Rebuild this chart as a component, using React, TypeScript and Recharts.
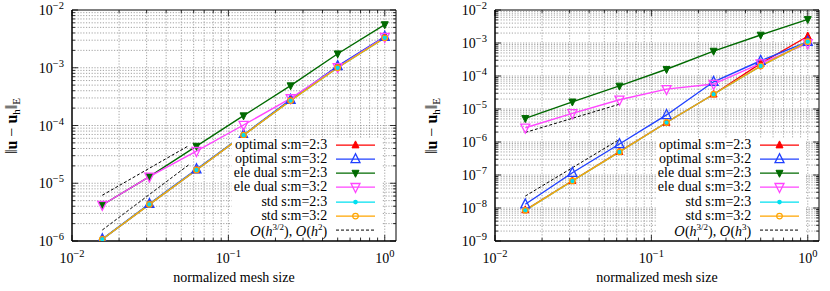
import { LineChart, Line, XAxis, YAxis, ReferenceLine, ReferenceArea, Legend, Label } from "recharts";

// mesh sizes h = 1/64 ... 1
const H = [1 / 64, 1 / 32, 1 / 16, 1 / 8, 1 / 4, 1 / 2, 1];

// left panel (s:m errors)
const leftOptimal23 = [1.07e-6, 4.3e-6, 1.7e-5, 6.8e-5, 2.75e-4, 1.05e-3, 3.4e-3];
const leftOptimal32 = [1.08e-6, 4.4e-6, 1.75e-5, 6.9e-5, 2.8e-4, 1.07e-3, 3.45e-3];
const leftEleDual23 = [4.2e-6, 1.3e-5, 4.4e-5, 1.48e-4, 4.9e-4, 1.75e-3, 5.6e-3];
const leftEleDual32 = [4.2e-6, 1.3e-5, 3.6e-5, 1.02e-4, 2.95e-4, 1.02e-3, 3.4e-3];
const leftStd23 = [1.07e-6, 4.3e-6, 1.7e-5, 6.8e-5, 2.7e-4, 1.0e-3, 3.3e-3];
const leftStd32 = [1.07e-6, 4.3e-6, 1.7e-5, 6.8e-5, 2.7e-4, 1.0e-3, 3.3e-3];
const leftRateH = [1 / 64, 0.056];
const leftRateA = [6.2e-6, 4.5e-5];
const leftRateB = [1.55e-6, 2.1e-5];

// right panel
const rightOptimal23 = [8.7e-9, 6.7e-8, 5.1e-7, 3.9e-6, 2.8e-5, 2.4e-4, 1.6e-3];
const rightOptimal32 = [1.3e-8, 1.17e-7, 8.7e-7, 6.6e-6, 6.7e-5, 2.9e-4, 1.1e-3];
const rightEleDual23 = [5.2e-6, 1.65e-5, 5.0e-5, 1.6e-4, 5.7e-4, 1.75e-3, 5.2e-3];
const rightEleDual32 = [2.7e-6, 7.4e-6, 1.9e-5, 4.0e-5, 5.7e-5, 2.4e-4, 9.8e-4];
const rightStd23 = [8.5e-9, 6.6e-8, 5.0e-7, 3.9e-6, 2.8e-5, 2.0e-4, 1.1e-3];
const rightStd32 = [8.5e-9, 6.6e-8, 5.0e-7, 3.9e-6, 2.8e-5, 2.0e-4, 1.1e-3];
const rightRateH = [1 / 64, 1 / 16];
const rightRateA = [1.95e-6, 1.4e-5];
const rightRateB = [2.3e-8, 1.2e-6];

const seriesNames = [
  "optimal s:m=2:3",
  "optimal s:m=3:2",
  "ele dual s:m=2:3",
  "ele dual s:m=3:2",
  "std s:m=2:3",
  "std s:m=3:2",
];

const FONT = "'Liberation Serif', 'Times New Roman', serif";
const PLOT_TOP = 10;
const PLOT_W = 324;
const PLOT_H = 231;
const X_DOMAIN = [0.01, 1.18];

type MarkerKind = "triUpFill" | "triUp" | "triDownFill" | "triDown" | "dot" | "circle";

const styles: { color: string; marker: MarkerKind }[] = [
  { color: "#ff0000", marker: "triUpFill" },
  { color: "#2040ff", marker: "triUp" },
  { color: "#006a00", marker: "triDownFill" },
  { color: "#ff44ff", marker: "triDown" },
  { color: "#00e0f0", marker: "dot" },
  { color: "#ffa500", marker: "circle" },
];

function Marker({ cx, cy, kind, color }: { cx: number; cy: number; kind: MarkerKind; color: string }) {
  if (cx == null || cy == null) return null;
  const big = 9;
  const small = 7;
  switch (kind) {
    case "triUpFill":
      return <polygon points={`${cx},${cy - small * 0.6} ${cx - small / 2},${cy + small * 0.4} ${cx + small / 2},${cy + small * 0.4}`} fill={color} stroke={color} strokeWidth={1} />;
    case "triUp":
      return <polygon points={`${cx},${cy - big * 0.6} ${cx - big / 2},${cy + big * 0.4} ${cx + big / 2},${cy + big * 0.4}`} fill="none" stroke={color} strokeWidth={1.3} />;
    case "triDownFill":
      return <polygon points={`${cx},${cy + small * 0.6} ${cx - small / 2},${cy - small * 0.4} ${cx + small / 2},${cy - small * 0.4}`} fill={color} stroke={color} strokeWidth={1} />;
    case "triDown":
      return <polygon points={`${cx},${cy + big * 0.6} ${cx - big / 2},${cy - big * 0.4} ${cx + big / 2},${cy - big * 0.4}`} fill="none" stroke={color} strokeWidth={1.3} />;
    case "dot":
      return <circle cx={cx} cy={cy} r={2.3} fill={color} stroke="none" />;
    default:
      return <circle cx={cx} cy={cy} r={2.8} fill="none" stroke={color} strokeWidth={1.2} />;
  }
}

function logTicks(lo: number, hi: number, maxVal: number) {
  const out: number[] = [];
  for (let e = lo; e <= hi; e++) {
    for (let m = 1; m <= 9; m++) {
      const v = m * Math.pow(10, e);
      if (v <= maxVal * 1.0001) out.push(Number(v.toPrecision(3)));
    }
  }
  return out;
}

const isDecade = (v: number) => Math.abs(Math.log10(v) - Math.round(Math.log10(v))) < 1e-6;

function Pow10({ v }: { v: number }) {
  const e = Math.round(Math.log10(v));
  return (
    <>
      <tspan>10</tspan>
      <tspan dy={-6} fontSize={10.5}>{e < 0 ? `\u2212${-e}` : `${e}`}</tspan>
    </>
  );
}

function XTick(props: any) {
  const { x, y, payload } = props;
  const v = payload.value;
  const major = isDecade(v);
  const len = major ? 6 : 3;
  return (
    <g>
      <line x1={x} y1={y} x2={x} y2={y - len} stroke="#000" strokeWidth={0.8} />
      <line x1={x} y1={PLOT_TOP} x2={x} y2={PLOT_TOP + len} stroke="#000" strokeWidth={0.8} />
      {major && (
        <text x={x} y={y + 22} textAnchor="middle" fontFamily={FONT} fontSize={14} fill="#000">
          <Pow10 v={v} />
        </text>
      )}
    </g>
  );
}

function YTick(props: any) {
  const { x, y, payload } = props;
  const v = payload.value;
  const major = isDecade(v);
  const len = major ? 6 : 3;
  return (
    <g>
      <line x1={x} y1={y} x2={x + len} y2={y} stroke="#000" strokeWidth={0.8} />
      <line x1={x + PLOT_W} y1={y} x2={x + PLOT_W - len} y2={y} stroke="#000" strokeWidth={0.8} />
      {major && (
        <text x={x - 8} y={y + 5} textAnchor="end" fontFamily={FONT} fontSize={14} fill="#000">
          <Pow10 v={v} />
        </text>
      )}
    </g>
  );
}

function LegendBox({ rateLabel }: { rateLabel: React.ReactNode }) {
  const rowH = 14.17;
  const rows = seriesNames.map((n, i) => ({ label: n as React.ReactNode, i }));
  return (
    <div style={{ background: "#fff", fontFamily: FONT, fontSize: 14, color: "#000" }}>
      {rows.map((r) => (
        <div key={r.i} style={{ display: "flex", alignItems: "center", height: rowH }}>
          <div style={{ width: 100, textAlign: "right", whiteSpace: "nowrap", lineHeight: `${rowH}px` }}>{r.label}</div>
          <svg width={48} height={rowH} style={{ marginLeft: 9 }}>
            <line x1={0} y1={rowH / 2} x2={39} y2={rowH / 2} stroke={styles[r.i].color} strokeWidth={1.4} />
            <Marker cx={19.5} cy={rowH / 2} kind={styles[r.i].marker} color={styles[r.i].color} />
          </svg>
        </div>
      ))}
      <div style={{ display: "flex", alignItems: "center", height: rowH }}>
        <div style={{ width: 100, textAlign: "right", whiteSpace: "nowrap", lineHeight: `${rowH}px` }}>{rateLabel}</div>
        <svg width={48} height={rowH} style={{ marginLeft: 9 }}>
          <line x1={0} y1={rowH / 2} x2={39} y2={rowH / 2} stroke="#000" strokeWidth={1} strokeDasharray="3 2" />
        </svg>
      </div>
    </div>
  );
}

type PanelProps = {
  series: number[][];
  rateH: number[];
  rateA: number[];
  rateB: number[];
  yMinExp: number;
  rateLabel: React.ReactNode;
  marginLeft: number;
  legendLeft: number;
  yLabelX: number;
};

function ErrorPanel(p: PanelProps) {
  const yDomain = [Math.pow(10, p.yMinExp), 1e-2];
  const xTicks = logTicks(-2, 0, X_DOMAIN[1]);
  const yTicks = logTicks(p.yMinExp, -2, 1e-2);
  const gridX = xTicks.filter((v) => v > 0.01);
  const gridY = yTicks.filter((v) => v > yDomain[0] && v < 1e-2);
  const toRows = (vals: number[], hs: number[] = H) => hs.map((h, i) => ({ h, v: vals[i] }));

  return (
    <LineChart
      width={415}
      height={291}
      margin={{ top: PLOT_TOP, right: 415 - p.marginLeft - 60 - PLOT_W, bottom: 0, left: p.marginLeft }}
      style={{ fontFamily: FONT }}
    >
      <XAxis
        dataKey="h"
        type="number"
        scale="log"
        domain={X_DOMAIN}
        allowDataOverflow
        ticks={xTicks}
        interval={0}
        tickSize={0}
        tickMargin={0}
        tickLine={false}
        tick={(t: any) => <XTick key={`xt-${t.index}`} {...t} />}
        height={291 - PLOT_TOP - PLOT_H}
        axisLine={{ stroke: "#000" }}
      >
        <Label
          content={(lp: any) => (
            <text x={lp.viewBox.x + lp.viewBox.width / 2} y={lp.viewBox.y + 41} textAnchor="middle" fontFamily={FONT} fontSize={14} fill="#000">
              normalized mesh size
            </text>
          )}
        />
      </XAxis>
      <YAxis
        type="number"
        scale="log"
        domain={yDomain}
        allowDataOverflow
        ticks={yTicks}
        interval={0}
        tickSize={0}
        tickMargin={0}
        tickLine={false}
        tick={(t: any) => <YTick key={`yt-${t.index}`} {...t} />}
        width={60}
        axisLine={{ stroke: "#000" }}
      >
        <Label
          content={() => (
            <text x={p.yLabelX} y={126} transform={`rotate(-90 ${p.yLabelX} 126)`} textAnchor="middle" fontFamily={FONT} fontSize={16} fill="#000">
              <tspan>‖</tspan>
              <tspan fontWeight="bold">u</tspan>
              <tspan> − </tspan>
              <tspan fontWeight="bold">u</tspan>
              <tspan fontSize={11} dy={3}>h</tspan>
              <tspan dy={-3}>‖</tspan>
              <tspan fontSize={11} dy={3}>E</tspan>
            </text>
          )}
        />
      </YAxis>
      {gridX.map((v) => (
        <ReferenceLine key={`gx${v}`} x={v} stroke="#8c8c8c" strokeWidth={0.8} strokeDasharray="1.2 1.6" />
      ))}
      {gridY.map((v) => (
        <ReferenceLine key={`gy${v}`} y={v} stroke="#8c8c8c" strokeWidth={0.8} strokeDasharray="1.2 1.6" />
      ))}
      <ReferenceArea x1={X_DOMAIN[0]} x2={X_DOMAIN[1]} y1={yDomain[0]} y2={yDomain[1]} fill="none" stroke="#000" strokeWidth={1} />
      {p.series.map((vals, i) => (
        <Line
          key={seriesNames[i]}
          name={seriesNames[i]}
          data={toRows(vals)}
          dataKey="v"
          stroke={styles[i].color}
          strokeWidth={1.4}
          dot={(d: any) => <Marker key={`m${i}-${d.index}`} cx={d.cx} cy={d.cy} kind={styles[i].marker} color={styles[i].color} />}
          activeDot={false}
          isAnimationActive={false}
        />
      ))}
      <Line data={toRows(p.rateA, p.rateH)} dataKey="v" stroke="#000" strokeWidth={1} strokeDasharray="3 2" dot={false} activeDot={false} isAnimationActive={false} />
      <Line data={toRows(p.rateB, p.rateH)} dataKey="v" stroke="#000" strokeWidth={1} strokeDasharray="3 2" dot={false} activeDot={false} isAnimationActive={false} />
      <Legend
        layout="vertical"
        align="center"
        verticalAlign="middle"
        wrapperStyle={{ left: p.legendLeft, top: 138, width: 150, height: 100 }}
        content={() => <LegendBox rateLabel={p.rateLabel} />}
      />
    </LineChart>
  );
}

const O = () => <span style={{ fontFamily: "'DejaVu Serif', serif", fontStyle: "italic", fontSize: 13 }}>O</span>;

export default function App() {
  return (
    <div style={{ position: "absolute", left: 0, top: 0, width: 830, height: 291, background: "#fff" }}>
      <div style={{ position: "absolute", left: 0, top: 0 }}>
        <ErrorPanel
          series={[leftOptimal23, leftOptimal32, leftEleDual23, leftEleDual32, leftStd23, leftStd32]}
          rateH={leftRateH}
          rateA={leftRateA}
          rateB={leftRateB}
          yMinExp={-6}
          marginLeft={12}
          legendLeft={232}
          yLabelX={17}
          rateLabel={
            <span>
              <O />(<i>h</i><sup style={{ fontSize: 9 }}>3/2</sup>), <O />(<i>h</i><sup style={{ fontSize: 9 }}>2</sup>)
            </span>
          }
        />
      </div>
      <div style={{ position: "absolute", left: 415, top: 0 }}>
        <ErrorPanel
          series={[rightOptimal23, rightOptimal32, rightEleDual23, rightEleDual32, rightStd23, rightStd32]}
          rateH={rightRateH}
          rateA={rightRateA}
          rateB={rightRateB}
          yMinExp={-9}
          marginLeft={20}
          legendLeft={241}
          yLabelX={22}
          rateLabel={
            <span>
              <O />(<i>h</i><sup style={{ fontSize: 9 }}>3/2</sup>), <O />(<i>h</i><sup style={{ fontSize: 9 }}>3</sup>)
            </span>
          }
        />
      </div>
    </div>
  );
}
